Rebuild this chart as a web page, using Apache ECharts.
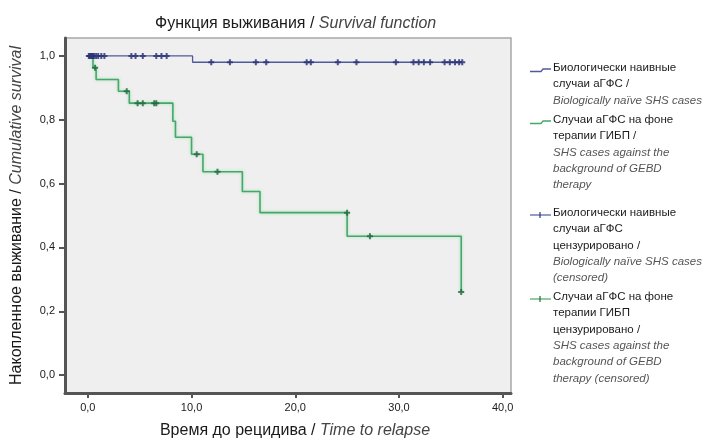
<!DOCTYPE html>
<html>
<head>
<meta charset="utf-8">
<script src="https://cdn.jsdelivr.net/npm/echarts@6/dist/echarts.min.js"></script>
<style>
  html, body { margin: 0; padding: 0; background: #ffffff; }
  #chart { width: 705px; height: 444px; }
</style>
</head>
<body>
<div id="chart"></div>
<script>
// Kaplan–Meier curves: [time, survival after the event]
const naiveSteps = [[0, 1], [10.1, 0.98], [36.1, 0.98]];
const gebdSteps = [
  [0, 1], [0.5, 0.963], [0.8, 0.926], [2.95, 0.889], [4.0, 0.852],
  [8.2, 0.795], [8.45, 0.745], [10.0, 0.692], [11.1, 0.637],
  [14.9, 0.575], [16.6, 0.509], [25.0, 0.435], [36.0, 0.26]
];

// Censored observations: [time, survival]
const naiveCensored = [
  [0.1, 1], [0.2, 1], [0.3, 1], [0.4, 1], [0.5, 1], [0.6, 1], [0.8, 1],
  [1.0, 1], [1.3, 1], [1.6, 1], [4.2, 1], [4.6, 1], [5.3, 1], [6.6, 1],
  [7.1, 1], [7.6, 1],
  [11.9, 0.98], [13.7, 0.98], [16.2, 0.98], [17.2, 0.98], [21.1, 0.98],
  [21.5, 0.98], [24.1, 0.98], [25.9, 0.98], [29.7, 0.98], [31.4, 0.98],
  [31.9, 0.98], [32.4, 0.98], [33.0, 0.98], [34.4, 0.98], [34.9, 0.98],
  [35.4, 0.98], [35.8, 0.98], [36.1, 0.98]
];
const gebdCensored = [
  [0.7, 0.963], [3.75, 0.889], [4.8, 0.852], [5.3, 0.852], [6.4, 0.852],
  [6.6, 0.852], [10.5, 0.692], [12.5, 0.637], [25.0, 0.509],
  [27.2, 0.435], [36.0, 0.26]
];

// Axis ticks
const timeTicks = [0, 10, 20, 30, 40];
const survivalTicks = [0, 0.2, 0.4, 0.6, 0.8, 1.0];

// Text
const titleRu = 'Функция выживания / ';
const titleEn = 'Survival function';
const xNameRu = 'Время до рецидива / ';
const xNameEn = 'Time to relapse';
const yNameRu = 'Накопленное выживание / ';
const yNameEn = 'Cumulative survival';
const legendEntries = [
  { ru: ['Биологически наивные', 'случаи аГФС /'], en: ['Biologically naïve SHS cases'] },
  { ru: ['Случаи аГФС на фоне', 'терапии ГИБП /'], en: ['SHS cases against the', 'background of GEBD', 'therapy'] },
  { ru: ['Биологически наивные', 'случаи аГФС', 'цензурировано /'], en: ['Biologically naïve SHS cases', '(censored)'] },
  { ru: ['Случаи аГФС на фоне', 'терапии ГИБП', 'цензурировано /'], en: ['SHS cases against the', 'background of GEBD', 'therapy (censored)'] }
];

const FONT = '"Liberation Sans", Arial, Helvetica, sans-serif';
const BLUE = '#4f5a9e';
const BLUE_DARK = '#2b3478';
const GREEN = '#46a868';
const GREEN_DARK = '#226b3e';

const fmt = v => v.toFixed(1).replace('.', ',');
const plus = 'path://M2,0H4V2H6V4H4V6H2V4H0V2H2Z';

const chart = echarts.init(document.getElementById('chart'), null, { renderer: 'canvas' });

const nameRich = {
  a: { fontFamily: FONT, fontSize: 16, fontWeight: 'normal', color: '#1a1a1a' },
  b: { fontFamily: FONT, fontSize: 16, fontWeight: 'normal', fontStyle: 'italic', color: '#444444' }
};

// Legend drawn as text blocks with small line icons
const legendGraphics = [];
const legendTops = [62, 114, 207, 291];
const legendColors = [BLUE, GREEN, BLUE, GREEN];
const legendMarkColors = [null, null, BLUE_DARK, GREEN_DARK];
legendEntries.forEach((e, i) => {
  const top = legendTops[i];
  const lines = e.ru.map(s => '{n|' + s + '}').concat(e.en.map(s => '{i|' + s + '}'));
  legendGraphics.push({
    type: 'text', left: 553, top: top,
    style: {
      text: lines.join('\n'),
      font: '11.5px ' + FONT,
      rich: {
        n: { fontFamily: FONT, fontSize: 11.5, fill: '#1a1a1a', lineHeight: 16.3 },
        i: { fontFamily: FONT, fontSize: 11.5, fontStyle: 'italic', fill: '#555555', lineHeight: 16.3 }
      }
    }
  });
  const cy = top + 8;
  if (i < 2) {
    legendGraphics.push({
      type: 'polyline',
      shape: { points: [[530, cy + 1.5], [541, cy + 1.5], [543, cy - 1], [551, cy - 1]] },
      style: { stroke: legendColors[i], lineWidth: 1.3, fill: null }
    });
  } else {
    legendGraphics.push({
      type: 'line', shape: { x1: 530, y1: cy, x2: 551, y2: cy },
      style: { stroke: legendColors[i], lineWidth: 1.2 }
    });
    legendGraphics.push({
      type: 'line', shape: { x1: 540, y1: cy - 3, x2: 540, y2: cy + 3 },
      style: { stroke: legendMarkColors[i], lineWidth: 1.2 }
    });
  }
});

chart.setOption({
  backgroundColor: '#ffffff',
  animation: false,
  textStyle: { fontFamily: FONT },
  title: {
    text: '{a|' + titleRu + '}{b|' + titleEn + '}',
    left: 150, top: 11,
    textStyle: { fontWeight: 'normal', rich: nameRich }
  },
  grid: {
    left: 65, top: 38, right: 194, bottom: 48,
    show: true, backgroundColor: '#efefef', borderColor: '#a8a8a8', borderWidth: 1.5
  },
  xAxis: {
    type: 'value', min: -2.2, max: 40.8,
    name: '{a|' + xNameRu + '}{b|' + xNameEn + '}',
    nameLocation: 'middle', nameGap: 30,
    nameTextStyle: { rich: nameRich, padding: [0, 0, 0, 14] },
    axisLine: { show: true, onZero: false, lineStyle: { color: '#555555', width: 3 } },
    axisTick: { show: true, length: 5, customValues: timeTicks, lineStyle: { color: '#555555', width: 2 } },
    axisLabel: { customValues: timeTicks, formatter: fmt, color: '#1a1a1a', fontSize: 11, margin: 9 },
    splitLine: { show: false }
  },
  yAxis: {
    type: 'value', min: -0.056, max: 1.056,
    name: '{a|' + yNameRu + '}{b|' + yNameEn + '}',
    nameLocation: 'middle', nameGap: 40, nameRotate: 90,
    nameTextStyle: { rich: nameRich },
    axisLine: { show: true, onZero: false, lineStyle: { color: '#555555', width: 3 } },
    axisTick: { show: true, length: 6, customValues: survivalTicks, lineStyle: { color: '#555555', width: 2 } },
    axisLabel: { customValues: survivalTicks, formatter: fmt, color: '#1a1a1a', fontSize: 11, margin: 10 },
    splitLine: { show: false }
  },
  series: [
    {
      name: 'naive', type: 'line', step: 'end', data: naiveSteps,
      showSymbol: false, lineStyle: { color: BLUE, width: 1.3 }, z: 3
    },
    {
      name: 'gebd', type: 'line', step: 'end', data: gebdSteps,
      showSymbol: false,
      lineStyle: { color: GREEN, width: 1.6, shadowColor: 'rgba(90,210,130,0.55)', shadowBlur: 3 },
      z: 2
    },
    {
      name: 'naive censored', type: 'scatter', data: naiveCensored,
      symbol: plus, symbolSize: 6, itemStyle: { color: BLUE_DARK, opacity: 0.85 }, z: 4
    },
    {
      name: 'gebd censored', type: 'scatter', data: gebdCensored,
      symbol: plus, symbolSize: 6, itemStyle: { color: GREEN_DARK, opacity: 0.85 }, z: 4
    }
  ],
  graphic: legendGraphics
});
</script>
</body>
</html>
